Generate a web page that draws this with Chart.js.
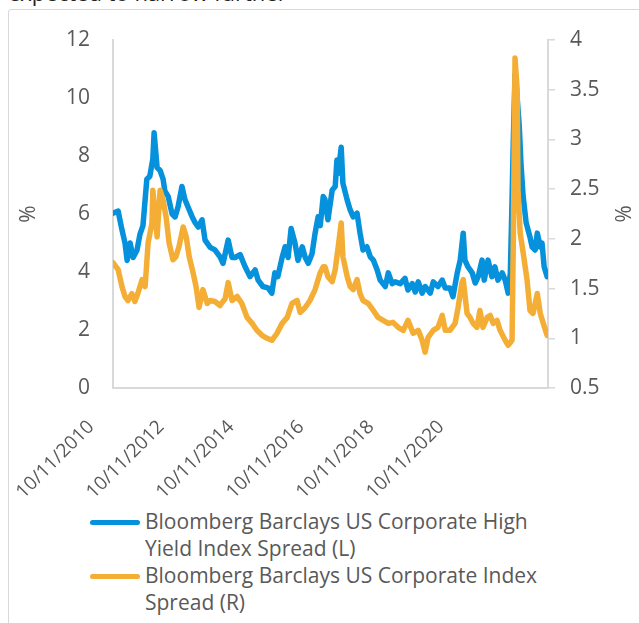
<!DOCTYPE html>
<html>
<head>
<meta charset="utf-8">
<script src="https://cdn.jsdelivr.net/npm/chart.js@4.4.1/dist/chart.umd.min.js"></script>
<style>
    body { margin: 0; background: #fff; width: 639px; height: 623px; overflow: hidden; position: relative; font-family: "Open Sans", sans-serif; color: #595959; }
    .lead { position: absolute; left: 8px; top: -19px; font-size: 22px; line-height: 22px; color: #222; white-space: nowrap; }
    .frame { position: absolute; left: 8px; top: 9px; width: 660px; height: 640px; border: 1px solid #d9d9d9; border-radius: 3px; }
    #wrap { position: absolute; left: 0; top: 0; width: 639px; height: 505px; }
    #legend { position: absolute; left: 90px; top: 508px; width: 470px; font-size: 21px; line-height: 27px; }
    .item { display: flex; align-items: flex-start; }
    .swatch { width: 50px; height: 5px; border-radius: 3px; margin-top: 12px; margin-right: 5px; flex: none; }
</style>
</head>
<body>
<div class="lead">expected to narrow further</div>
<div class="frame"></div>
<div id="wrap"><canvas id="chart" width="639" height="505"></canvas></div>
<div id="legend"></div>
<script>
// x values are decimal years
const hyYears = [2010.78, 2010.90, 2010.99, 2011.06, 2011.11, 2011.18, 2011.25, 2011.34, 2011.41, 2011.48,
    2011.57, 2011.64, 2011.71, 2011.74, 2011.81, 2011.88, 2011.95, 2011.99, 2012.07, 2012.16,
    2012.23, 2012.30, 2012.39, 2012.46, 2012.53, 2012.63, 2012.70, 2012.77, 2012.86, 2012.93,
    2013.05, 2013.16, 2013.28, 2013.35, 2013.47, 2013.56, 2013.63, 2013.75, 2013.86, 2013.98,
    2014.10, 2014.17, 2014.28, 2014.40, 2014.49, 2014.56, 2014.63, 2014.73, 2014.80, 2014.87,
    2014.94, 2015.03, 2015.10, 2015.20, 2015.27, 2015.34, 2015.43, 2015.50, 2015.57, 2015.62,
    2015.69, 2015.73, 2015.80, 2015.90, 2015.97, 2016.01, 2016.04, 2016.11, 2016.15, 2016.25,
    2016.32, 2016.39, 2016.48, 2016.55, 2016.62, 2016.71, 2016.79, 2016.86, 2016.95, 2017.02,
    2017.14, 2017.21, 2017.30, 2017.37, 2017.49, 2017.60, 2017.67, 2017.77, 2017.84, 2017.91,
    2018.00, 2018.07, 2018.19, 2018.26, 2018.37, 2018.47, 2018.54, 2018.65, 2018.72, 2018.82,
    2018.89, 2018.96, 2019.00, 2019.07, 2019.17, 2019.24, 2019.31, 2019.40, 2019.45, 2019.54,
    2019.63, 2019.70, 2019.77, 2019.87, 2019.94, 2020.01, 2020.06, 2020.10, 2020.13, 2020.17,
    2020.22, 2020.27, 2020.31, 2020.36, 2020.43, 2020.52, 2020.57, 2020.64, 2020.69, 2020.76,
    2020.80, 2020.85, 2020.92];
const hySpread = [6.03, 6.10, 5.45, 5.00, 4.40, 5.00, 4.50, 4.75, 5.30, 5.60,
    7.20, 7.30, 7.90, 8.80, 7.60, 7.50, 7.20, 6.80, 6.60, 6.00,
    5.90, 6.25, 6.95, 6.50, 6.25, 5.90, 5.70, 5.55, 5.80, 5.10,
    4.85, 4.76, 4.52, 4.30, 5.10, 4.50, 4.50, 4.60, 4.20, 3.84,
    4.07, 3.72, 3.50, 3.45, 3.27, 3.97, 3.84, 4.50, 4.87, 4.50,
    5.50, 5.00, 4.40, 4.87, 4.50, 4.30, 4.64, 5.34, 5.90, 5.60,
    6.60, 6.50, 5.80, 6.83, 6.95, 7.86, 7.40, 8.30, 7.06, 6.48,
    6.14, 5.90, 6.03, 5.34, 4.76, 4.87, 4.52, 4.41, 4.07, 3.72,
    3.50, 3.97, 3.60, 3.66, 3.60, 3.78, 3.38, 3.60, 3.31, 3.66,
    3.27, 3.50, 3.27, 3.66, 3.50, 3.72, 3.45, 3.45, 3.15, 3.97,
    4.41, 5.34, 4.41, 4.18, 3.97, 3.62, 3.84, 4.41, 3.72, 4.41,
    3.84, 4.18, 3.72, 3.97, 3.72, 3.27, 3.97, 6.48, 8.55, 10.80,
    10.00, 9.00, 7.70, 6.60, 5.70, 5.20, 4.86, 4.76, 5.34, 4.86,
    5.00, 4.18, 3.84];

const igYears = [2010.78, 2010.90, 2010.99, 2011.06, 2011.13, 2011.22, 2011.29, 2011.36, 2011.46, 2011.53,
    2011.60, 2011.69, 2011.71, 2011.81, 2011.88, 2011.95, 2012.02, 2012.09, 2012.18, 2012.25,
    2012.32, 2012.42, 2012.49, 2012.56, 2012.65, 2012.72, 2012.79, 2012.88, 2012.98, 2013.05,
    2013.16, 2013.28, 2013.40, 2013.47, 2013.56, 2013.68, 2013.79, 2013.91, 2014.03, 2014.14,
    2014.26, 2014.38, 2014.49, 2014.61, 2014.73, 2014.85, 2014.96, 2015.08, 2015.15, 2015.27,
    2015.38, 2015.50, 2015.62, 2015.69, 2015.73, 2015.80, 2015.90, 2015.97, 2016.04, 2016.11,
    2016.15, 2016.25, 2016.32, 2016.39, 2016.48, 2016.55, 2016.62, 2016.74, 2016.86, 2016.97,
    2017.09, 2017.21, 2017.32, 2017.44, 2017.56, 2017.67, 2017.79, 2017.91, 2018.00, 2018.07,
    2018.14, 2018.26, 2018.37, 2018.47, 2018.54, 2018.65, 2018.77, 2018.84, 2018.93, 2018.96,
    2019.05, 2019.12, 2019.19, 2019.28, 2019.35, 2019.42, 2019.52, 2019.59, 2019.66, 2019.75,
    2019.82, 2019.94, 2020.01, 2020.10, 2020.13, 2020.17, 2020.22, 2020.24, 2020.29, 2020.36,
    2020.45, 2020.52, 2020.59, 2020.69, 2020.76, 2020.83, 2020.92];
const igSpread = [1.76, 1.69, 1.52, 1.42, 1.38, 1.45, 1.37, 1.45, 1.59, 1.52,
    1.96, 2.16, 2.49, 2.02, 2.49, 2.39, 2.22, 1.96, 1.79, 1.82,
    1.92, 2.12, 2.02, 1.82, 1.66, 1.52, 1.31, 1.49, 1.35, 1.38,
    1.37, 1.33, 1.40, 1.56, 1.38, 1.42, 1.35, 1.21, 1.15, 1.08,
    1.03, 1.00, 0.98, 1.05, 1.15, 1.21, 1.35, 1.38, 1.26, 1.31,
    1.38, 1.49, 1.66, 1.72, 1.72, 1.62, 1.57, 1.69, 1.92, 2.16,
    1.82, 1.62, 1.52, 1.49, 1.59, 1.45, 1.38, 1.35, 1.28, 1.21,
    1.18, 1.15, 1.16, 1.11, 1.08, 1.18, 1.05, 1.08, 0.98, 0.86,
    1.01, 1.08, 1.11, 1.23, 1.08, 1.08, 1.15, 1.31, 1.56, 1.59,
    1.25, 1.21, 1.15, 1.11, 1.28, 1.11, 1.21, 1.23, 1.15, 1.18,
    1.08, 0.98, 0.93, 0.98, 1.99, 3.82, 3.50, 2.49, 2.06, 1.86,
    1.59, 1.28, 1.25, 1.45, 1.25, 1.15, 1.03];

const xTickValues = [2010.78, 2012.42, 2014.05, 2015.69, 2017.32, 2018.96];
const xTickLabels = ['10/11/2010', '10/11/2012', '10/11/2014', '10/11/2016', '10/11/2018', '10/11/2020'];

const seriesLabels = [
    'Bloomberg Barclays US Corporate High Yield Index Spread (L)',
    'Bloomberg Barclays US Corporate Index Spread (R)'
];
const seriesColors = ['#0591db', '#f4ae35'];

const axisGray = '#d9d9d9';
const textGray = '#595959';
Chart.defaults.font.family = '"Open Sans", sans-serif';
Chart.defaults.color = textGray;

const toPoints = (xs, ys) => xs.map((x, i) => ({x: x, y: ys[i]}));

const chart = new Chart(document.getElementById('chart'), {
    type: 'line',
    data: {
        datasets: [
            {
                label: seriesLabels[0],
                data: toPoints(hyYears, hySpread),
                yAxisID: 'yL',
                borderColor: seriesColors[0],
                borderWidth: 5.5,
                order: 1
            },
            {
                label: seriesLabels[1],
                data: toPoints(igYears, igSpread),
                yAxisID: 'yR',
                borderColor: seriesColors[1],
                borderWidth: 5.5,
                order: 0
            }
        ]
    },
    options: {
        responsive: false,
        animation: false,
        events: [],
        layout: { padding: { left: 8, right: 0, top: 40, bottom: 0 } },
        elements: {
            point: { radius: 0 },
            line: { tension: 0, borderJoinStyle: 'round', borderCapStyle: 'round' }
        },
        plugins: {
            legend: { display: false },
            tooltip: { enabled: false }
        },
        scales: {
            x: {
                type: 'linear',
                min: 2010.78,
                max: 2020.94,
                grid: { display: false, drawTicks: false },
                border: { display: true, color: axisGray, width: 2 },
                ticks: {
                    minRotation: 45,
                    maxRotation: 45,
                    autoSkip: false,
                    padding: 28,
                    labelOffset: -22,
                    font: { size: 19 },
                    callback: (v, i) => xTickLabels[i]
                },
                afterBuildTicks: scale => {
                    scale.ticks = xTickValues.map(v => ({value: v}));
                },
                afterFit: scale => { scale.height = 117; }
            },
            yL: {
                position: 'left',
                min: 0,
                max: 12,
                grid: { display: false, drawTicks: false },
                border: { display: true, color: axisGray, width: 2 },
                ticks: { stepSize: 2, padding: 23, font: { size: 21 } },
                title: { display: true, text: '%', font: { size: 21 }, padding: 8 },
                afterFit: scale => { scale.width = 105; }
            },
            yR: {
                position: 'right',
                min: 0.5,
                max: 4,
                grid: { display: true, drawOnChartArea: false, drawTicks: true, tickLength: 7, color: axisGray, lineWidth: 1.5 },
                border: { display: true, color: axisGray, width: 2 },
                ticks: { stepSize: 0.5, padding: 15, font: { size: 21 }, callback: v => String(v) },
                title: { display: true, text: '%', font: { size: 21 }, padding: 5 },
                afterFit: scale => { scale.width = 91; }
            }
        }
    }
});

// legend in HTML so the long labels can wrap
const legend = document.getElementById('legend');
chart.data.datasets.forEach(ds => {
    const item = document.createElement('div');
    item.className = 'item';
    const sw = document.createElement('span');
    sw.className = 'swatch';
    sw.style.background = ds.borderColor;
    const txt = document.createElement('span');
    txt.textContent = ds.label;
    item.appendChild(sw);
    item.appendChild(txt);
    legend.appendChild(item);
});
</script>
</body>
</html>
